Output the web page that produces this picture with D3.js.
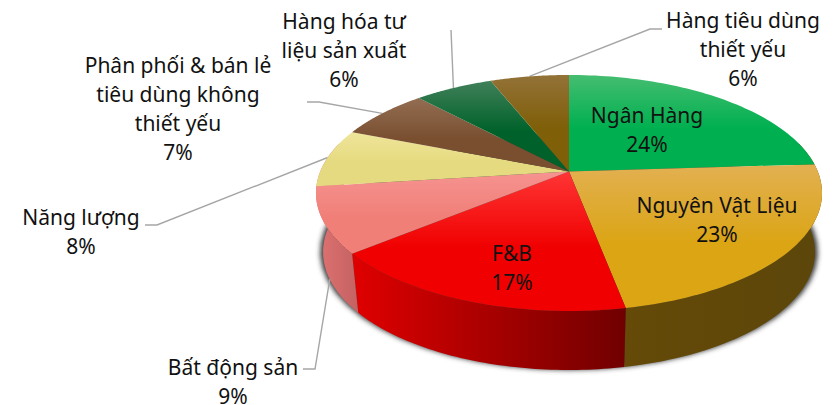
<!DOCTYPE html>
<html>
<head>
<meta charset="utf-8">
<script src="https://cdn.jsdelivr.net/npm/d3@7"></script>
<style>
  html, body { margin: 0; background: #fff; }
  text { font-family: "Noto Sans", sans-serif; font-size: 21px; fill: #111; text-anchor: middle; }
</style>
</head>
<body>
<div id="app"></div>
<script>
const sectors = ['Ngân Hàng', 'Nguyên Vật Liệu', 'F&B', 'Bất động sản', 'Năng lượng', 'Phân phối & bán lẻ tiêu dùng không thiết yếu', 'Hàng hóa tư liệu sản xuất', 'Hàng tiêu dùng thiết yếu'];
const shares = [24, 23, 17, 9, 8, 7, 6, 6];
const labelLines = [
  ['Ngân Hàng', '24%'],
  ['Nguyên Vật Liệu', '23%'],
  ['F&B', '17%'],
  ['Bất động sản', '9%'],
  ['Năng lượng', '8%'],
  ['Phân phối & bán lẻ', 'tiêu dùng không', 'thiết yếu', '7%'],
  ['Hàng hóa tư', 'liệu sản xuất', '6%'],
  ['Hàng tiêu dùng', 'thiết yếu', '6%']
];

const topLight = ['#45bd70', '#e2b052', '#ff3535', '#f69390', '#efe59a', '#936d52', '#41805a', '#937238'];
const topBase = ['#00b050', '#dba514', '#f00000', '#f07f78', '#e6da80', '#794f30', '#00622a', '#7f5f08'];
const wallLeft = { 1: '#654a08', 2: '#e00000', 3: '#e07272' };
const wallRight = { 1: '#5c460a', 2: '#700000', 3: '#c46262' };

// where the labels sit, and the elbow each leader goes through
const labelX = [647, 717, 512, 233, 81, 178, 344, 743];
const labelY = [123, 213, 261, 375, 225, 73, 29, 28];
const lineHeight = 29;
const leaderElbows = [null, null, null, [[315, 369], [303, 369]], [[157, 225], [145, 225]], [[319, 102], [307, 102]], [[451, 30]], [[650, 29], [662, 29]]];

const width = 833;
const height = 405;
const cx = 569;
const cy = 171.5;
const radiusX = 248.8;
const radiusY = 114.1;
const tilt = 0.182; // perspective, the apex sits above the ellipse centre
const depth = 59;
const bottomShrink = 0.972;

const project = angle => {
  const u = Math.sin(angle);
  const v = -Math.cos(angle);
  const w = 1 - tilt * v;
  return [cx + radiusX * u / w, cy + radiusY * v / w];
};
const projectBottom = angle => {
  const [x, y] = project(angle);
  return [cx + (x - cx) * bottomShrink, y + depth];
};

const pie = d3.pie().sort(null);
const slices = pie(shares);
const line = d3.line();
const arcAngles = (a, b) => d3.range(0, 61).map(i => a + (b - a) * i / 60);

const svg = d3.select('#app').append('svg')
  .attr('width', width)
  .attr('height', height)
  .attr('viewBox', `0 0 ${width} ${height}`)
  .style('display', 'block');

const defs = svg.append('defs');

defs.append('filter')
  .attr('id', 'blur')
  .attr('x', '-10%').attr('y', '-10%')
  .attr('width', '120%').attr('height', '120%')
  .append('feGaussianBlur')
  .attr('stdDeviation', 2.6);

slices.forEach((d, i) => {
  const top = defs.append('linearGradient')
    .attr('id', `top${i}`)
    .attr('x1', 0).attr('y1', 0).attr('x2', 0).attr('y2', 1);
  top.append('stop').attr('offset', 0).attr('stop-color', topLight[i]);
  top.append('stop').attr('offset', 0.55).attr('stop-color', topBase[i]);

  if (wallLeft[i]) {
    const wall = defs.append('linearGradient')
      .attr('id', `wall${i}`)
      .attr('x1', 0).attr('y1', 0).attr('x2', 1).attr('y2', 0);
    wall.append('stop').attr('offset', 0).attr('stop-color', wallLeft[i]);
    wall.append('stop').attr('offset', 1).attr('stop-color', wallRight[i]);
  }
});

// soft shadow under the disc
svg.append('path')
  .attr('d', line(arcAngles(0, 2 * Math.PI).map(a => {
    const [x, y] = projectBottom(a);
    return [cx + (x - cx) * 1.012, y];
  })) + 'Z')
  .attr('fill', '#3a3a3a')
  .attr('filter', 'url(#blur)');

// walls: only three slices show one, the outer two run on round the silhouette
const wallFrom = 75 * Math.PI / 180;
const wallTo = 285 * Math.PI / 180;
svg.selectAll('path.wall')
  .data(slices.filter(d => wallLeft[d.index]))
  .join('path')
  .attr('class', 'wall')
  .attr('fill', d => `url(#wall${d.index})`)
  .attr('d', d => {
    const a = arcAngles(d.index === 1 ? wallFrom : d.startAngle, d.index === 3 ? wallTo : d.endAngle);
    return line(a.map(project).concat(a.slice().reverse().map(projectBottom))) + 'Z';
  });

const leaderFrom = d => d.index === 3 ? projectBottom((d.startAngle + d.endAngle) / 2) : project((d.startAngle + d.endAngle) / 2);
svg.selectAll('path.leader')
  .data(slices.filter(d => leaderElbows[d.index]))
  .join('path')
  .attr('class', 'leader')
  .attr('fill', 'none')
  .attr('stroke', '#a6a6a6')
  .attr('stroke-width', 1.4)
  .attr('d', d => line([leaderFrom(d), ...leaderElbows[d.index]]));

svg.selectAll('path.top')
  .data(slices)
  .join('path')
  .attr('class', 'top')
  .attr('fill', d => `url(#top${d.index})`)
  .attr('d', d => line([[cx, cy], ...arcAngles(d.startAngle, d.endAngle).map(project)]) + 'Z');

const labels = svg.selectAll('text')
  .data(slices)
  .join('text')
  .attr('aria-label', d => sectors[d.index]);

labels.selectAll('tspan')
  .data(d => labelLines[d.index].map((t, j) => ({ t, j, i: d.index })))
  .join('tspan')
  .attr('x', d => labelX[d.i])
  .attr('y', d => labelY[d.i] + d.j * lineHeight)
  .text(d => d.t);
</script>
</body>
</html>
